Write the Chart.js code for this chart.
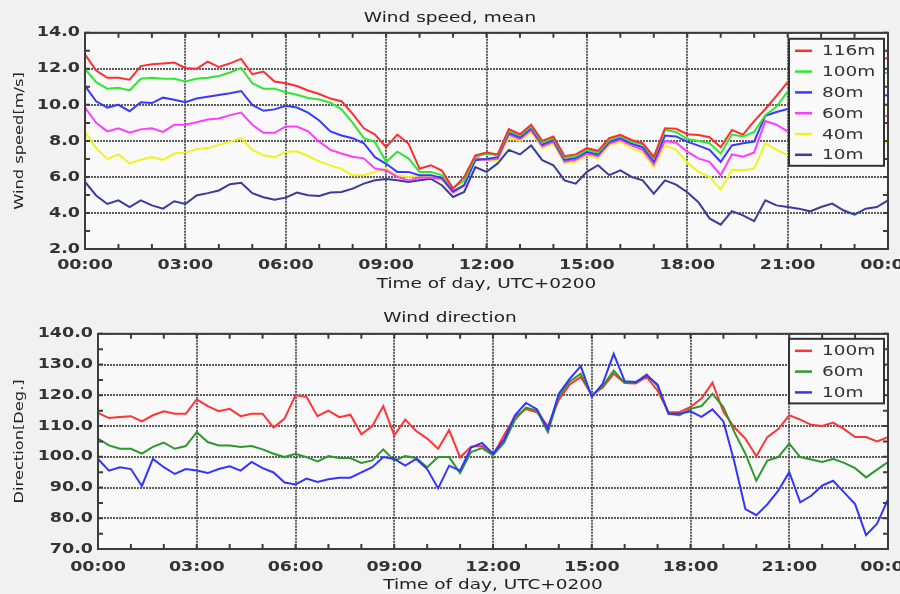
<!DOCTYPE html>
<html>
<head>
<meta charset="utf-8">
<title>Wind profile</title>
<script src="https://cdn.jsdelivr.net/npm/chart.js@4.4.0/dist/chart.umd.min.js"></script>
<style>
  html, body { margin: 0; padding: 0; background: #f1f1f1; }
  #page { position: relative; width: 900px; height: 594px; overflow: hidden; }
  #page canvas { position: absolute; left: 0; }
</style>
</head>
<body>
<div id="page">
  <canvas id="speedChart" width="900" height="297" style="top:0"></canvas>
  <canvas id="dirChart" width="900" height="297" style="top:297px"></canvas>
</div>
<script>
// Sample times, minutes after local midnight (20-minute means)
const minutes = [0,20,40,60,80,100,120,140,160,180,200,220,240,260,280,300,320,340,360,380,400,420,440,460,480,500,520,540,560,580,600,620,640,660,680,700,720,740,760,780,800,820,840,860,880,900,920,940,960,980,1000,1020,1040,1060,1080,1100,1120,1140,1160,1180,1200,1220,1240,1260,1280,1300,1320,1340,1360,1380,1400,1420,1440];

const hourLabels = ['00:00','03:00','06:00','09:00','12:00','15:00','18:00','21:00','00:00'];

// Mean wind speed [m/s] per measurement height
const speed116 = [12.8,11.9,11.5,11.5,11.4,12.15,12.25,12.3,12.35,12.05,
  12.0,12.4,12.1,12.3,12.55,11.7,11.85,11.3,11.2,11.05,
  10.8,10.6,10.35,10.2,9.5,8.7,8.35,7.65,8.35,7.85,
  6.45,6.65,6.35,5.35,6.0,7.2,7.35,7.25,8.65,8.37,
  8.9,8.0,8.24,7.15,7.25,7.6,7.45,8.15,8.34,8.05,
  7.87,7.12,8.7,8.67,8.37,8.33,8.2,7.65,8.6,8.35,
  9.1,9.77,10.5,11.26,11.5,11.75,11.9,12.05,12.2,12.3,
  12.4,12.5,12.6];
const speed100 = [12.0,11.26,10.9,10.95,10.8,11.45,11.5,11.45,11.45,11.3,
  11.45,11.5,11.6,11.8,12.05,11.2,10.9,10.9,10.7,10.56,
  10.38,10.3,10.12,9.75,9.0,8.15,7.93,6.84,7.4,7.03,
  6.28,6.28,6.1,5.39,5.8,7.1,7.3,7.2,8.55,8.3,
  8.8,7.9,8.15,7.05,7.15,7.5,7.35,8.05,8.25,7.95,
  7.8,7.02,8.6,8.5,8.1,8.0,7.87,7.3,8.35,8.24,
  8.5,9.42,9.9,10.74,11.0,11.2,11.3,11.4,11.5,11.55,
  11.6,11.7,11.8];
const speed80 = [11.05,10.2,9.85,10.0,9.65,10.15,10.1,10.4,10.28,10.15,
  10.35,10.45,10.55,10.65,10.77,10.0,9.67,9.75,9.95,9.85,
  9.57,9.13,8.53,8.3,8.15,7.87,7.1,6.73,6.28,6.28,
  6.1,6.1,5.95,5.2,5.54,6.93,7.0,7.1,8.45,8.2,
  8.7,7.8,8.05,6.95,7.05,7.4,7.25,7.95,8.15,7.85,
  7.65,6.85,8.3,8.25,7.96,7.74,7.5,6.84,7.75,7.87,
  7.96,9.4,9.6,9.77,9.85,9.9,10.0,10.1,10.15,10.25,
  10.35,10.45,10.55];
const speed60 = [9.85,9.0,8.53,8.7,8.45,8.64,8.7,8.5,8.9,8.9,
  9.03,9.19,9.24,9.43,9.57,8.9,8.45,8.45,8.8,8.8,
  8.53,7.96,7.5,7.3,7.12,7.03,6.47,6.37,6.0,5.81,
  5.95,5.95,5.9,5.13,5.54,7.03,6.95,7.0,8.35,8.1,
  8.6,7.7,7.95,6.85,6.95,7.3,7.15,7.85,8.05,7.75,
  7.5,6.7,8.0,7.9,7.4,7.03,6.84,6.1,7.25,7.12,
  7.36,9.1,8.9,8.53,8.6,8.7,8.8,8.9,9.0,9.1,
  9.2,9.3,9.4];
const speed40 = [8.5,7.6,7.0,7.25,6.75,6.95,7.1,6.95,7.3,7.35,
  7.55,7.6,7.78,7.96,8.15,7.5,7.2,7.1,7.38,7.42,
  7.16,6.86,6.64,6.45,6.09,6.09,6.28,6.47,6.09,6.0,
  6.09,6.0,5.81,5.16,5.57,7.12,6.9,6.9,8.2,8.0,
  8.5,7.6,7.85,6.75,6.85,7.2,7.05,7.75,7.95,7.6,
  7.35,6.55,7.75,7.5,6.8,6.28,6.0,5.3,6.4,6.37,
  6.47,7.87,7.5,7.21,7.0,6.85,6.7,6.6,6.75,7.0,
  7.4,7.7,7.95];
const speed10 = [5.72,4.97,4.5,4.7,4.33,4.7,4.42,4.24,4.65,4.5,
  4.97,5.1,5.25,5.6,5.67,5.1,4.87,4.74,4.85,5.13,
  4.98,4.94,5.13,5.17,5.35,5.63,5.81,5.88,5.81,5.72,
  5.81,5.9,5.54,4.89,5.17,6.55,6.28,6.75,7.5,7.25,
  7.75,6.93,6.65,5.81,5.63,6.28,6.65,6.1,6.37,6.0,
  5.81,5.07,5.81,5.57,5.15,4.6,3.7,3.35,4.1,3.87,
  3.54,4.7,4.42,4.33,4.24,4.09,4.33,4.52,4.15,3.91,
  4.24,4.33,4.7];

// Wind direction [deg] per measurement height
const dir100 = [114.3,112.6,112.9,113.2,111.5,113.5,114.8,114.0,114.0,118.7,
  116.5,114.8,115.6,113.2,114.0,114.0,109.5,112.4,120.0,119.5,
  113.2,115.0,112.9,113.7,107.3,110.0,116.5,107.0,112.1,108.4,
  105.9,102.6,108.7,99.8,103.3,103.5,100.5,107.0,113.0,115.5,
  114.5,110.0,118.5,123.5,126.0,120.0,122.5,127.0,124.0,123.8,
  126.0,121.5,114.5,114.5,116.2,118.9,124.1,114.6,109.5,105.9,
  100.2,106.4,109.0,113.5,112.1,110.4,110.0,111.1,109.0,106.4,
  106.4,105.0,106.4];
const dir60 = [105.9,103.7,102.6,102.6,101.0,103.2,104.6,102.6,103.5,108.0,
  104.8,103.7,103.7,103.2,103.5,102.4,101.0,99.9,101.0,99.9,
  98.5,100.2,99.6,99.6,98.0,98.8,102.4,98.8,100.2,99.6,
  96.6,99.9,99.9,94.7,101.5,102.8,100.5,104.5,112.0,116.0,
  115.0,108.0,119.5,124.5,127.0,120.0,123.0,128.0,124.0,124.0,
  126.8,123.0,114.0,113.5,115.6,116.5,120.5,116.2,108.0,101.0,
  92.2,98.8,99.9,104.3,99.9,99.1,98.3,99.3,98.0,96.3,
  93.3,95.8,98.3];
const dir10 = [99.3,95.5,96.6,96.0,90.5,99.3,96.6,94.4,96.0,95.5,
  94.7,96.0,96.9,95.5,98.3,96.3,94.9,91.6,91.0,92.9,
  91.8,92.7,93.2,93.2,94.9,96.6,99.9,99.3,97.1,99.3,
  96.0,89.7,97.1,95.5,103.0,104.5,101.0,105.5,113.5,117.5,
  115.5,109.0,120.5,125.4,129.5,119.5,123.8,133.5,124.6,124.3,
  126.5,123.5,114.0,114.0,114.8,113.0,115.4,111.5,98.3,83.0,
  81.0,84.5,89.0,95.0,85.2,87.3,90.6,92.2,88.4,84.6,
  74.5,78.2,86.2];

Chart.defaults.font.family = "'DejaVu Sans', sans-serif";

// The plotting fonts are drawn horizontally widened
function widenText(canvas) {
  const ctx = canvas.getContext('2d');
  const plainFill = ctx.fillText;
  ctx.fillText = function (text, x, y, maxWidth) {
    const f = this.font;
    const k = /bold|700/.test(f) ? 1.25 : (/13px/.test(f) ? 1.25 : 1.32);
    this.save();
    this.translate(x, y);
    this.scale(k, 1);
    if (maxWidth === undefined) plainFill.call(this, text, 0, 0);
    else plainFill.call(this, text, 0, 0, maxWidth / k);
    this.restore();
  };
}

const plotBackground = {
  id: 'plotBackground',
  beforeDraw(chart) {
    const { ctx, chartArea: a } = chart;
    ctx.save();
    ctx.fillStyle = '#f9f9f9';
    ctx.fillRect(a.left, a.top, a.right - a.left, a.bottom - a.top);
    ctx.restore();
  }
};

// Plot frame with small inward tick marks on all four sides
const framePlugin = {
  id: 'frame',
  afterDatasetsDraw(chart, args, opts) {
    const { ctx, chartArea: a, scales: { x, y } } = chart;
    ctx.save();
    ctx.strokeStyle = '#3c3c3c';
    ctx.lineWidth = 2;
    ctx.beginPath();
    for (let v = x.min; v <= x.max; v += opts.xStep) {
      const px = x.getPixelForValue(v);
      ctx.moveTo(px, a.top); ctx.lineTo(px, a.top + 5);
      ctx.moveTo(px, a.bottom); ctx.lineTo(px, a.bottom - 5);
    }
    for (let v = y.min; v <= y.max; v += opts.yStep) {
      const py = y.getPixelForValue(v);
      ctx.moveTo(a.left, py); ctx.lineTo(a.left + 5, py);
      ctx.moveTo(a.right, py); ctx.lineTo(a.right - 5, py);
    }
    ctx.stroke();
    ctx.strokeRect(a.left, a.top, a.right - a.left, a.bottom - a.top);
    ctx.restore();
  }
};

// Boxed legend in the upper right corner of the plot
const boxLegend = {
  id: 'boxLegend',
  afterDatasetsDraw(chart, args, opts) {
    const { ctx, chartArea: a } = chart;
    const items = chart.data.datasets;
    const rowH = 20.8;
    const w = 95;
    const h = 23 + (items.length - 1) * rowH;
    const left = a.right - 4 - w;
    const top = a.top + opts.top;
    ctx.save();
    ctx.fillStyle = '#f9f9f9';
    ctx.fillRect(left, top, w, h);
    ctx.strokeStyle = '#333';
    ctx.lineWidth = 2;
    ctx.strokeRect(left, top, w, h);
    ctx.font = "14px 'DejaVu Sans'";
    ctx.textBaseline = 'middle';
    ctx.textAlign = 'left';
    items.forEach((ds, i) => {
      const cy = top + 12 + i * rowH;
      ctx.strokeStyle = ds.borderColor;
      ctx.lineWidth = 2.5;
      ctx.beginPath();
      ctx.moveTo(left + 6, cy);
      ctx.lineTo(left + 23, cy);
      ctx.stroke();
      ctx.fillStyle = '#333';
      ctx.fillText(ds.label, left + 33, cy + 1);
    });
    ctx.restore();
  }
};

const gridColor = 'rgba(75,75,75,0.9)';

function buildChart(canvasId, cfg) {
  const canvas = document.getElementById(canvasId);
  widenText(canvas);
  return new Chart(canvas, {
    type: 'line',
    data: {
      labels: minutes,
      datasets: cfg.series.map(s => ({
        label: s.label,
        data: s.values,
        borderColor: s.color,
        backgroundColor: s.color,
        borderWidth: 2,
        pointRadius: 0,
        tension: 0,
        fill: false,
        order: s.order || 0
      }))
    },
    options: {
      responsive: false,
      animation: false,
      devicePixelRatio: 1,
      layout: { padding: 0, autoPadding: false },
      plugins: {
        legend: { display: false },
        tooltip: { enabled: false },
        title: {
          display: true,
          text: cfg.title,
          color: '#222',
          font: { size: 14, weight: 'normal' },
          padding: cfg.titlePad
        },
        frame: { xStep: 60, yStep: cfg.yMinor },
        boxLegend: { top: cfg.legendTop }
      },
      scales: {
        x: {
          type: 'linear',
          min: 0,
          max: 1440,
          afterFit(s) { s.height = cfg.xHeight; s.paddingLeft = 0; s.paddingRight = 0; },
          grid: { color: gridColor, lineWidth: 2, drawTicks: false },
          border: { display: false, dash: [2, 1] },
          ticks: {
            stepSize: 180,
            autoSkip: false,
            maxRotation: 0,
            padding: cfg.xTickPad,
            color: '#333',
            font: { size: 14, weight: 'bold' },
            callback: v => hourLabels[v / 180]
          },
          title: {
            display: true,
            text: 'Time of day, UTC+0200',
            color: '#222',
            font: { size: 14, weight: 'normal' },
            padding: { top: 0, bottom: cfg.xTitlePad }
          }
        },
        y: {
          type: 'linear',
          min: cfg.yMin,
          max: cfg.yMax,
          afterFit(s) { s.width = cfg.yWidth; s.paddingTop = 0; s.paddingBottom = 0; },
          grid: { color: gridColor, lineWidth: 2, drawTicks: false },
          border: { display: false, dash: [2, 1] },
          ticks: {
            stepSize: cfg.yStep,
            padding: 5,
            color: '#333',
            font: { size: 14, weight: 'bold' },
            callback: v => v.toFixed(1)
          },
          title: {
            display: true,
            text: cfg.yTitle,
            color: '#222',
            font: { size: 13, weight: 'normal' },
            padding: { top: 12, bottom: 0 }
          }
        },
        gap: {
          type: 'linear',
          position: 'right',
          display: true,
          grid: { display: false, drawTicks: false },
          border: { display: false },
          ticks: { display: false },
          afterFit(s) { s.width = 12; }
        }
      }
    },
    plugins: [plotBackground, framePlugin, boxLegend]
  });
}

buildChart('speedChart', {
  title: 'Wind speed, mean',
  titlePad: { top: 10, bottom: 6 },
  yTitle: 'Wind speed[m/s]',
  yMin: 2, yMax: 14, yStep: 2, yMinor: 1,
  yWidth: 85, xHeight: 48, xTickPad: 8, xTitlePad: 4.6,
  legendTop: 6,
  series: [
    { label: '116m', values: speed116, color: '#ff2e2e' },
    { label: '100m', values: speed100, color: '#2ee82e' },
    { label: '80m',  values: speed80,  color: '#3a3aff' },
    { label: '60m',  values: speed60,  color: '#ff3cff' },
    { label: '40m',  values: speed40,  color: '#f2f21e' },
    { label: '10m',  values: speed10,  color: '#3a3a9e' }
  ]
});

buildChart('dirChart', {
  title: 'Wind direction',
  titlePad: { top: 13, bottom: 7 },
  yTitle: 'Direction[Deg.]',
  yMin: 70, yMax: 140, yStep: 10, yMinor: 5,
  yWidth: 98, xHeight: 45, xTickPad: 10, xTitlePad: 0,
  legendTop: 5,
  series: [
    { label: '100m', values: dir100, color: '#ff3434', order: 2 },
    { label: '60m',  values: dir60,  color: '#2e982e', order: 1 },
    { label: '10m',  values: dir10,  color: '#3434ff', order: 0 }
  ]
});
</script>
</body>
</html>
